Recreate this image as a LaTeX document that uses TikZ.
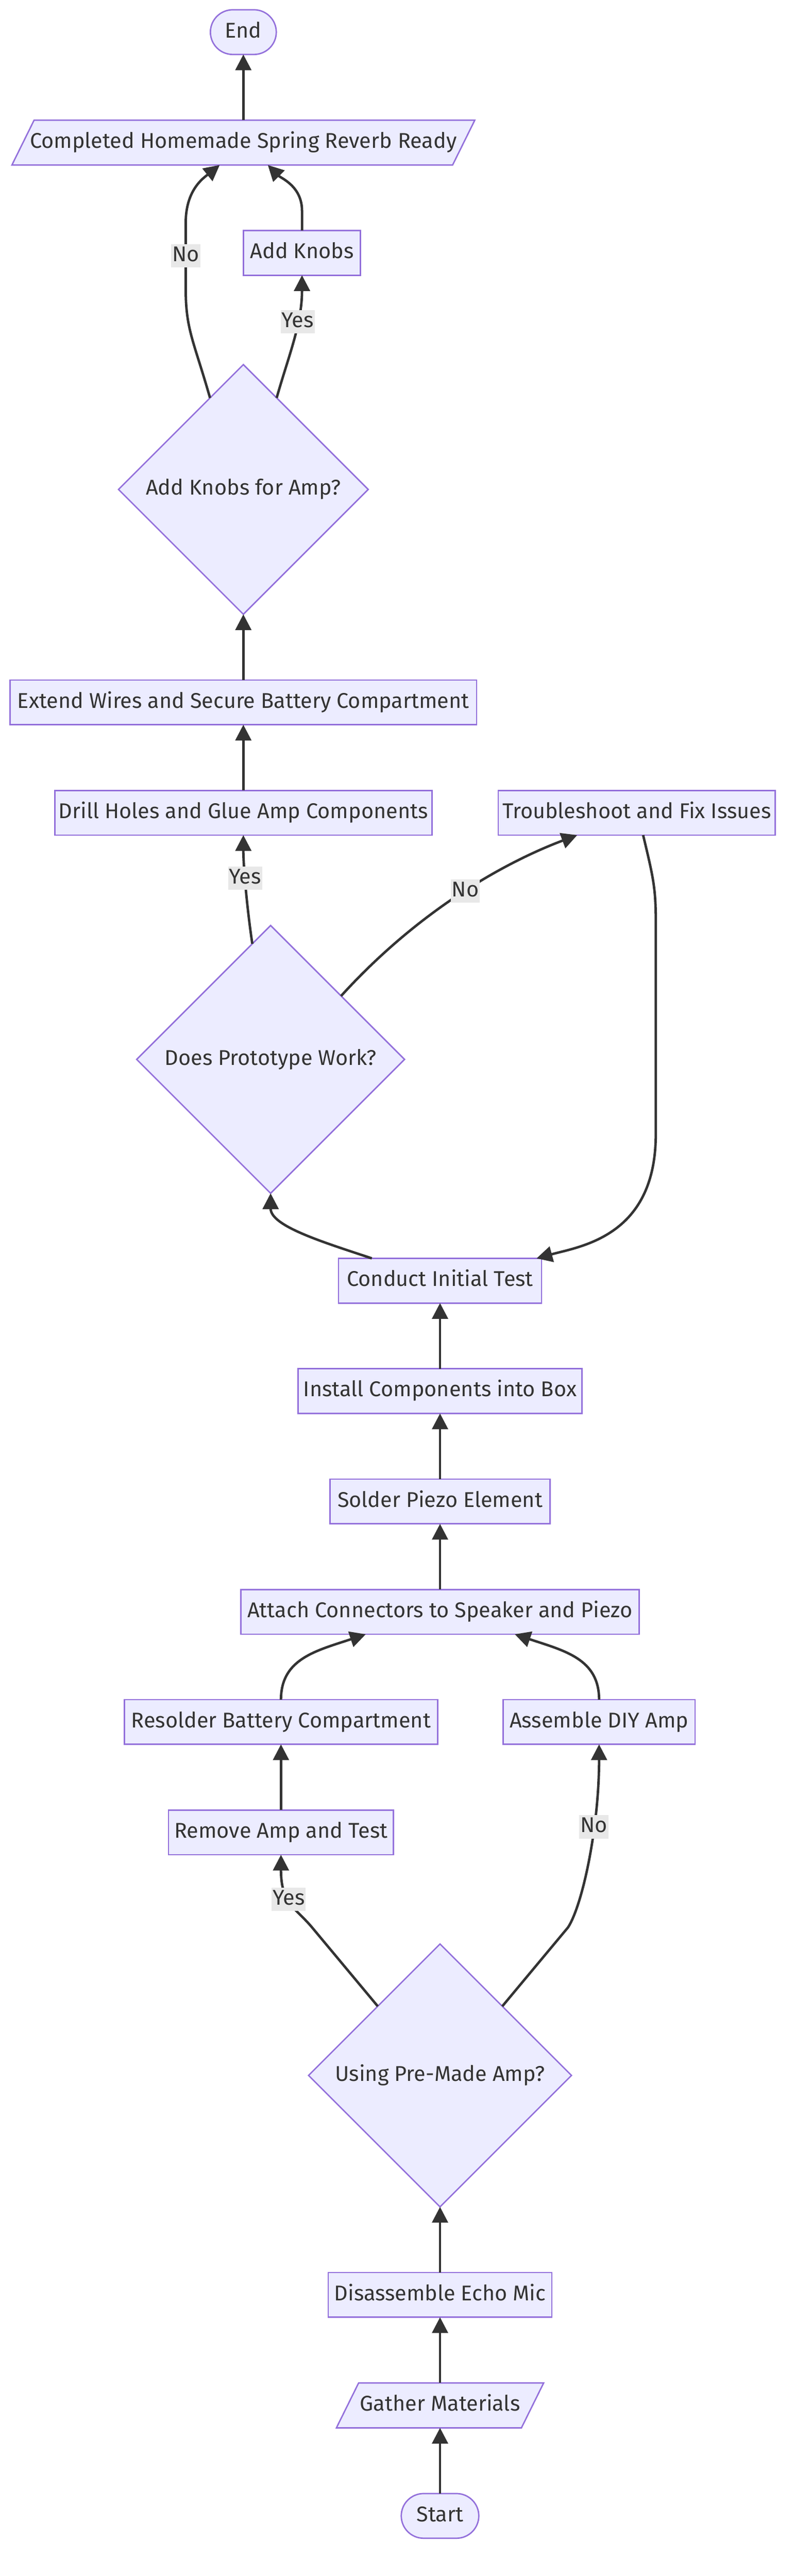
\documentclass[tikz,border=0pt]{standalone}
\usepackage{fontspec}
\setmainfont{Fira Sans}
\usetikzlibrary{arrows.meta, positioning, shapes.geometric, backgrounds}
\definecolor{nodefill}{HTML}{ECECFF}
\definecolor{nodeline}{HTML}{9370DB}
\definecolor{edgecol}{HTML}{333333}
\definecolor{textcol}{HTML}{333333}
\definecolor{lblfill}{HTML}{E8E8E8}

\begin{document}
\begin{tikzpicture}[x=1pt, y=-1pt, node distance=40pt,
    % Base style for all nodes
    cell/.style={font=\fontsize{13}{15.6}\selectfont, text=textcol, text height=9.5pt, text depth=2.7pt, inner sep=0pt, outer sep=0pt, anchor=center},
    % Process steps
    procbox/.style={cell, draw=nodeline, line width=0.85pt, fill=nodefill, minimum height=27.2pt},
    % Start / End
    termbox/.style={procbox, rounded corners=13.6pt},
    % Input / output (parallelogram drawn behind)
    iobox/.style={cell, minimum height=27.3pt},
    iofill/.style={draw=nodeline, line width=0.85pt, fill=nodefill},
    % Questions
    decision/.style={cell, diamond, draw=nodeline, line width=0.85pt, fill=nodefill},
    % Labels
    edgelabel/.style={cell, fill=lblfill, inner xsep=0.6pt, inner ysep=1pt},
    arrow/.style={-{Triangle[length=9.6pt, width=9.6pt]}, line width=1.5pt, draw=edgecol}
]
\useasboundingbox (0,0) rectangle (483.2,1567.9);

% Bottom column
\node[termbox, minimum width=47.2pt] (start) at (267.8,1531.3) {Start};
\node[iobox, minimum width=112.6pt, above=of start] (gather) {Gather Materials};
\node[procbox, minimum width=136.1pt, above=of gather] (disasm) {Disassemble Echo Mic};
\node[decision, minimum size=160pt, above=of disasm] (premade) {Using Pre-Made Amp?};

% Amp branches
\node[procbox, minimum width=137pt] (removeamp) at (171,1115.3) {Remove Amp and Test};
\node[procbox, minimum width=190.6pt, above=of removeamp] (resolder) {Resolder Battery Compartment};
\node[procbox, minimum width=116.8pt] (diyamp) at (364.6,1048.1) {Assemble DIY Amp};

% Middle column
\node[procbox, minimum width=242.3pt] (connectors) at (267.8,981.1) {Attach Connectors to Speaker and Piezo};
\node[procbox, minimum width=133.7pt, above=of connectors] (piezo) {Solder Piezo Element};
\node[procbox, minimum width=172.7pt, above=of piezo] (install) {Install Components into Box};
\node[procbox, minimum width=123.5pt, above=of install] (test) {Conduct Initial Test};
\node[decision, minimum size=163pt] (works) at (164.7,644.8) {Does Prototype Work?};
\node[procbox, minimum width=229.6pt] (drill) at (148.1,494.7) {Drill Holes and Glue Amp Components};
\node[procbox, minimum width=168.6pt] (fix) at (387.5,494.7) {Troubleshoot and Fix Issues};

% Top column
\node[procbox, minimum width=284pt, above=of drill] (extend) {Extend Wires and Secure Battery Compartment};
\node[decision, minimum size=152pt, above=of extend] (knobq) {Add Knobs for Amp?};
\node[procbox, minimum width=71.2pt] (knobs) at (183.8,153.9) {Add Knobs};
\node[iobox, minimum width=268.2pt] (ready) at (148.1,86.8) {Completed Homemade Spring Reverb Ready};
\node[termbox, minimum width=40.1pt, above=of ready] (finish) {End};

% Parallelograms behind the io nodes
\begin{scope}[on background layer]
\foreach \n in {gather, ready} {
    \draw[iofill] ([xshift=6.75pt]\n.north west) -- ([xshift=6.75pt]\n.north east)
        -- ([xshift=-6.75pt]\n.south east) -- ([xshift=-6.75pt]\n.south west) -- cycle;
}
\end{scope}

% Straight steps
\draw[arrow] (start) -- (gather);
\draw[arrow] (gather) -- (disasm);
\draw[arrow] (disasm) -- (premade);
\draw[arrow] (removeamp) -- (resolder);
\draw[arrow] (connectors) -- (piezo);
\draw[arrow] (piezo) -- (install);
\draw[arrow] (install) -- (test);
\draw[arrow] (drill) -- (extend);
\draw[arrow] (extend) -- (knobq);
\draw[arrow] (ready) -- (finish);

% Pre-made amp question
\draw[arrow] (premade.132) -- ++(-40,-48) .. controls +(-10,-12) and +(0,30) .. (removeamp.south)
    node[edgelabel, pos=0.55] {Yes};
\draw[arrow] (premade.48) -- ++(40,-48) .. controls +(9,-14) and +(0,50) .. (diyamp.south)
    node[edgelabel, pos=0.65] {No};
\draw[arrow] (resolder.north) .. controls +(0,-25) and +(-30,10) .. ([xshift=-45.2pt]connectors.south);
\draw[arrow] (diyamp.north) .. controls +(0,-25) and +(30,10) .. ([xshift=45.5pt]connectors.south);

% Test loop
\draw[arrow] ([xshift=-41.5pt]test.north) .. controls +(-30,-10) and +(0,20) .. (works.south);
\draw[arrow] (works.99) .. controls +(-3,-20) and +(0,20) .. (drill.south)
    node[edgelabel, pos=0.6] {Yes};
\draw[arrow] (works.42) .. controls +(50,-55) and +(-40,15) .. ([xshift=-36.2pt]fix.south)
    node[edgelabel, pos=0.5] {No};
\draw[arrow] ([xshift=3.9pt]fix.south) .. controls +(6,25) and +(0,-20) .. ++(7.7,52) -- ++(0,130)
    .. controls +(0,62) and +(27.3,-7.4) .. ([xshift=-3pt]test.north east);

% Knobs question
\draw[arrow] (knobq.70) .. controls +(7,-25) and +(0,30) .. (knobs.south)
    node[edgelabel, pos=0.65] {Yes};
\draw[arrow] (knobq.110) .. controls +(-10,-35) and +(0,25) .. ++(-14.8,-66.5) -- ++(0,-40)
    node[edgelabel, midway] {No} .. controls +(0,-20) and +(-10,8) .. ([xshift=-14.4pt]ready.south);
\draw[arrow] (knobs.north) -- ++(0,-12) .. controls +(0,-15) and +(8,8) .. ([xshift=14.9pt]ready.south);

\end{tikzpicture}
\end{document}
